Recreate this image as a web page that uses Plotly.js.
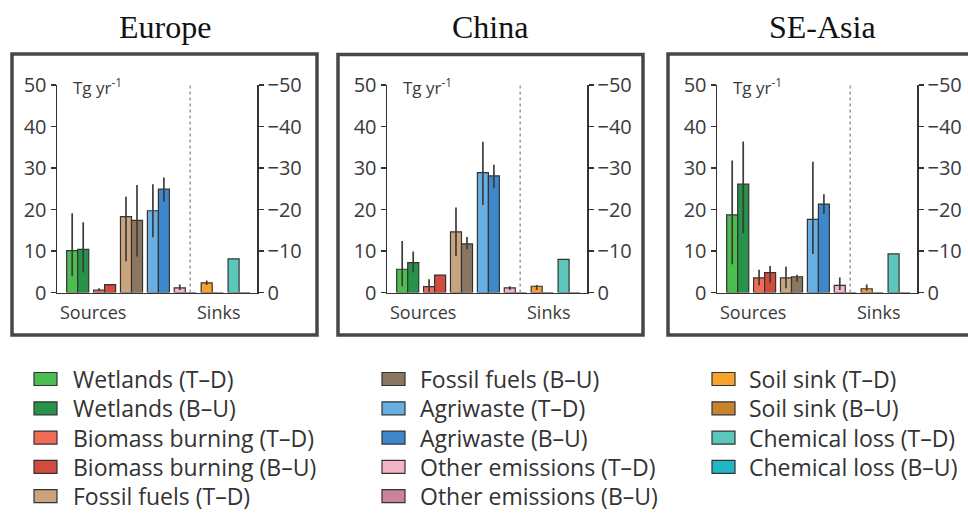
<!DOCTYPE html>
<html>
<head>
<meta charset="utf-8">
<script src="https://cdn.plot.ly/plotly-3.0.1.min.js"></script>
<style>
  html, body { margin: 0; padding: 0; background: #fff; overflow: hidden; }
  #chart { width: 968px; height: 513px; }
</style>
</head>
<body>
<div id="chart"></div>
<script>
// Methane source/sink budgets per region, Tg CH4 per year.
// Each category has a top-down (T–D) and bottom-up (B–U) estimate.
const categories = ['Wetlands', 'Biomass burning', 'Fossil fuels', 'Agriwaste',
                    'Other emissions', 'Soil sink', 'Chemical loss'];
const regions = ['Europe', 'China', 'SE-Asia'];

const colorsTD = ['#4dbd4f', '#f26b55', '#c9a47f', '#67aee2', '#f5b3c6', '#f8a12c', '#5cc6ba'];
const colorsBU = ['#27924a', '#d24b3c', '#8b7661', '#3f87cb', '#c98497', '#c8842c', '#22b7c7'];

// Europe
const europeTD     = [10.1, 0.6, 18.3, 19.7, 1.1, 2.3, 8.1];
const europeTDLow  = [3.9, 0.3, 7.5, 13.3, 0.6, 1.8, null];
const europeTDHigh = [19.1, 1.0, 23.1, 26.1, 1.9, 2.9, null];
const europeBU     = [10.4, 1.9, 17.4, 24.9, 0, 0, 0];
const europeBULow  = [4.8, null, 8.7, 21.9, null, null, null];
const europeBUHigh = [16.9, null, 25.9, 27.7, null, null, null];

// China
const chinaTD     = [5.6, 1.4, 14.6, 28.9, 1.1, 1.5, 8.0];
const chinaTDLow  = [1.5, 0.2, 8.8, 21.1, 0.6, 0.6, null];
const chinaTDHigh = [12.4, 3.2, 20.5, 36.3, 1.5, 1.8, null];
const chinaBU     = [7.2, 4.2, 11.7, 28.1, 0, 0, 0];
const chinaBULow  = [4.8, null, 10.4, 25.1, null, null, null];
const chinaBUHigh = [9.9, null, 13.4, 30.8, null, null, null];

// SE-Asia
const seasiaTD     = [18.7, 3.5, 3.5, 17.6, 1.7, 0.9, 9.3];
const seasiaTDLow  = [6.8, 1.7, 1.0, 9.3, 0.6, 0.4, null];
const seasiaTDHigh = [31.8, 5.5, 6.2, 31.5, 3.6, 1.9, null];
const seasiaBU     = [26.1, 4.8, 3.8, 21.3, 0, 0, 0];
const seasiaBULow  = [14.3, 2.4, 2.6, 18.9, null, null, null];
const seasiaBUHigh = [36.4, 6.4, 4.3, 23.7, null, null, null];

const leftTicks  = [0, 10, 20, 30, 40, 50];
const leftText   = ['0', '10', '20', '30', '40', '50'];
const rightText  = ['0', '\u221210', '\u221220', '\u221230', '\u221240', '\u221250'];

const legendNames = [
  'Wetlands (T\u2013D)', 'Wetlands (B\u2013U)',
  'Biomass burning (T\u2013D)', 'Biomass burning (B\u2013U)',
  'Fossil fuels (T\u2013D)', 'Fossil fuels (B\u2013U)',
  'Agriwaste (T\u2013D)', 'Agriwaste (B\u2013U)',
  'Other emissions (T\u2013D)', 'Other emissions (B\u2013U)',
  'Soil sink (T\u2013D)', 'Soil sink (B\u2013U)',
  'Chemical loss (T\u2013D)', 'Chemical loss (B\u2013U)'
];

const regionData = [
  {td: europeTD, tdLo: europeTDLow, tdHi: europeTDHigh, bu: europeBU, buLo: europeBULow, buHi: europeBUHigh},
  {td: chinaTD,  tdLo: chinaTDLow,  tdHi: chinaTDHigh,  bu: chinaBU,  buLo: chinaBULow,  buHi: chinaBUHigh},
  {td: seasiaTD, tdLo: seasiaTDLow, tdHi: seasiaTDHigh, bu: seasiaBU, buLo: seasiaBULow, buHi: seasiaBUHigh}
];

// ---- page geometry (pixels) ----
const W = 968, H = 513;
const px = v => v / W;
const py = v => 1 - v / H;
const axisLeft = [57, 387, 717];
const axisWidth = 200;
const yZeroPx = 292.5, yTopPx = 85;
const titleX = [165, 490, 822];
const boxes = [[12, 54, 317, 335], [338, 54.5, 643, 335], [668, 54, 990, 335]];

const tickFont = {family: 'Open Sans, sans-serif', size: 20, color: '#3a3a3a'};
const ink = '#333';

const idx = categories.map((_, i) => i);
const upper = (v, hi) => v.map((x, i) => hi[i] == null ? 0 : hi[i] - x);
const lower = (v, lo) => v.map((x, i) => lo[i] == null ? 0 : x - lo[i]);

const traces = [];
const layout = {
  width: W, height: H,
  margin: {l: 0, r: 0, t: 0, b: 0},
  paper_bgcolor: '#fff', plot_bgcolor: 'rgba(0,0,0,0)',
  showlegend: false,
  barmode: 'group', bargap: 0.18, bargroupgap: 0,
  shapes: [], annotations: []
};

regions.forEach((name, k) => {
  const d = regionData[k];
  const sx = k === 0 ? '' : String(k + 1);
  const ry = String(k + 4);
  const errStyle = {type: 'data', symmetric: false, color: '#3c3c3c', thickness: 1.7, width: 0};

  traces.push({
    type: 'bar', name: name + ' T\u2013D', x: idx, y: d.td,
    xaxis: 'x' + sx, yaxis: 'y' + sx,
    marker: {color: colorsTD, line: {color: ink, width: 1.2}},
    error_y: Object.assign({array: upper(d.td, d.tdHi), arrayminus: lower(d.td, d.tdLo)}, errStyle),
    hoverinfo: 'skip'
  });
  traces.push({
    type: 'bar', name: name + ' B\u2013U', x: idx, y: d.bu,
    xaxis: 'x' + sx, yaxis: 'y' + sx,
    marker: {color: colorsBU, line: {color: ink, width: 1.2}},
    error_y: Object.assign({array: upper(d.bu, d.buHi), arrayminus: lower(d.bu, d.buLo)}, errStyle),
    hoverinfo: 'skip'
  });
  // carrier for the mirrored sink axis
  traces.push({type: 'scatter', x: [], y: [], xaxis: 'x' + sx, yaxis: 'y' + ry, hoverinfo: 'skip'});

  const L = axisLeft[k];
  const unit = 26.9;                 // pixels between category centres
  const firstCentre = 20.7;          // first category centre from the left axis
  layout['xaxis' + sx] = {
    domain: [px(L), px(L + axisWidth)],
    anchor: 'y' + sx,
    range: [-firstCentre / unit, (axisWidth - firstCentre) / unit],
    showline: true, linecolor: ink, linewidth: 1.5,
    showticklabels: false, ticks: '', showgrid: false, zeroline: false, fixedrange: true
  };
  layout['yaxis' + sx] = {
    domain: [py(yZeroPx), py(yTopPx)],
    anchor: 'x' + sx,
    range: [0, 50],
    tickvals: leftTicks, ticktext: leftText, tickfont: tickFont,
    ticks: 'outside', ticklen: 5, tickwidth: 1.5, tickcolor: ink,
    showline: true, linecolor: ink, linewidth: 1.5,
    showgrid: false, zeroline: false, fixedrange: true
  };
  layout['yaxis' + ry] = {
    overlaying: 'y' + sx, anchor: 'x' + sx, side: 'right',
    range: [0, 50],
    tickvals: leftTicks, ticktext: rightText, tickfont: tickFont,
    ticks: 'outside', ticklen: 5, tickwidth: 1.5, tickcolor: ink,
    showline: true, linecolor: ink, linewidth: 1.5,
    showgrid: false, zeroline: false, fixedrange: true
  };

  // sources | sinks divider
  layout.shapes.push({
    type: 'line', xref: 'x' + sx + ' domain', yref: 'y' + sx,
    x0: 0.666, x1: 0.666, y0: 0, y1: 50,
    line: {color: '#9a9a9a', width: 1.5, dash: 'dot'}
  });
  // panel frame
  const b = boxes[k];
  layout.shapes.push({
    type: 'rect', xref: 'paper', yref: 'paper',
    x0: px(b[0]), x1: px(b[2]), y0: py(b[3]), y1: py(b[1]),
    line: {color: '#474747', width: 3.5}, fillcolor: 'rgba(0,0,0,0)'
  });

  // region title
  layout.annotations.push({
    xref: 'paper', yref: 'paper', x: px(titleX[k]), y: py(27),
    xanchor: 'center', yanchor: 'middle', showarrow: false,
    text: name, font: {family: 'Liberation Serif, Times New Roman, serif', size: 32, color: '#111'}
  });
  // unit label
  layout.annotations.push({
    xref: 'paper', yref: 'paper', x: px(L + 14), y: py(86),
    xanchor: 'left', yanchor: 'middle', showarrow: false,
    text: 'Tg yr<sup>-1</sup>', font: {family: 'Open Sans, sans-serif', size: 17, color: '#3a3a3a'}
  });
  // group labels
  layout.annotations.push({
    xref: 'paper', yref: 'paper', x: px(L + 36), y: py(312),
    xanchor: 'center', yanchor: 'middle', showarrow: false,
    text: 'Sources', font: {family: 'Open Sans, sans-serif', size: 18, color: '#3a3a3a'}
  });
  layout.annotations.push({
    xref: 'paper', yref: 'paper', x: px(L + 162), y: py(312),
    xanchor: 'center', yanchor: 'middle', showarrow: false,
    text: 'Sinks', font: {family: 'Open Sans, sans-serif', size: 18, color: '#3a3a3a'}
  });
});

// ---- key: three columns of swatches ----
const legendColours = [];
colorsTD.forEach((c, i) => { legendColours.push(c, colorsBU[i]); });
const colSwatchX = [34, 382, 712];
const colTextX = [72, 419, 748];
const colStart = [0, 5, 10];
const rowY0 = 379, rowStep = 29.3;
legendNames.forEach((label, i) => {
  const col = i < 5 ? 0 : (i < 10 ? 1 : 2);
  const row = i - colStart[col];
  const yc = rowY0 + row * rowStep;
  layout.shapes.push({
    type: 'rect', xref: 'paper', yref: 'paper',
    x0: px(colSwatchX[col]), x1: px(colSwatchX[col] + 23),
    y0: py(yc + 6.5), y1: py(yc - 6.5),
    fillcolor: legendColours[i], line: {color: ink, width: 1.2}
  });
  layout.annotations.push({
    xref: 'paper', yref: 'paper', x: px(colTextX[col]), y: py(yc),
    xanchor: 'left', yanchor: 'middle', showarrow: false, borderpad: 0,
    text: label, font: {family: 'Open Sans, sans-serif', size: 23, color: '#333'}
  });
});

Plotly.newPlot('chart', traces, layout, {staticPlot: true, displayModeBar: false});
</script>
</body>
</html>
